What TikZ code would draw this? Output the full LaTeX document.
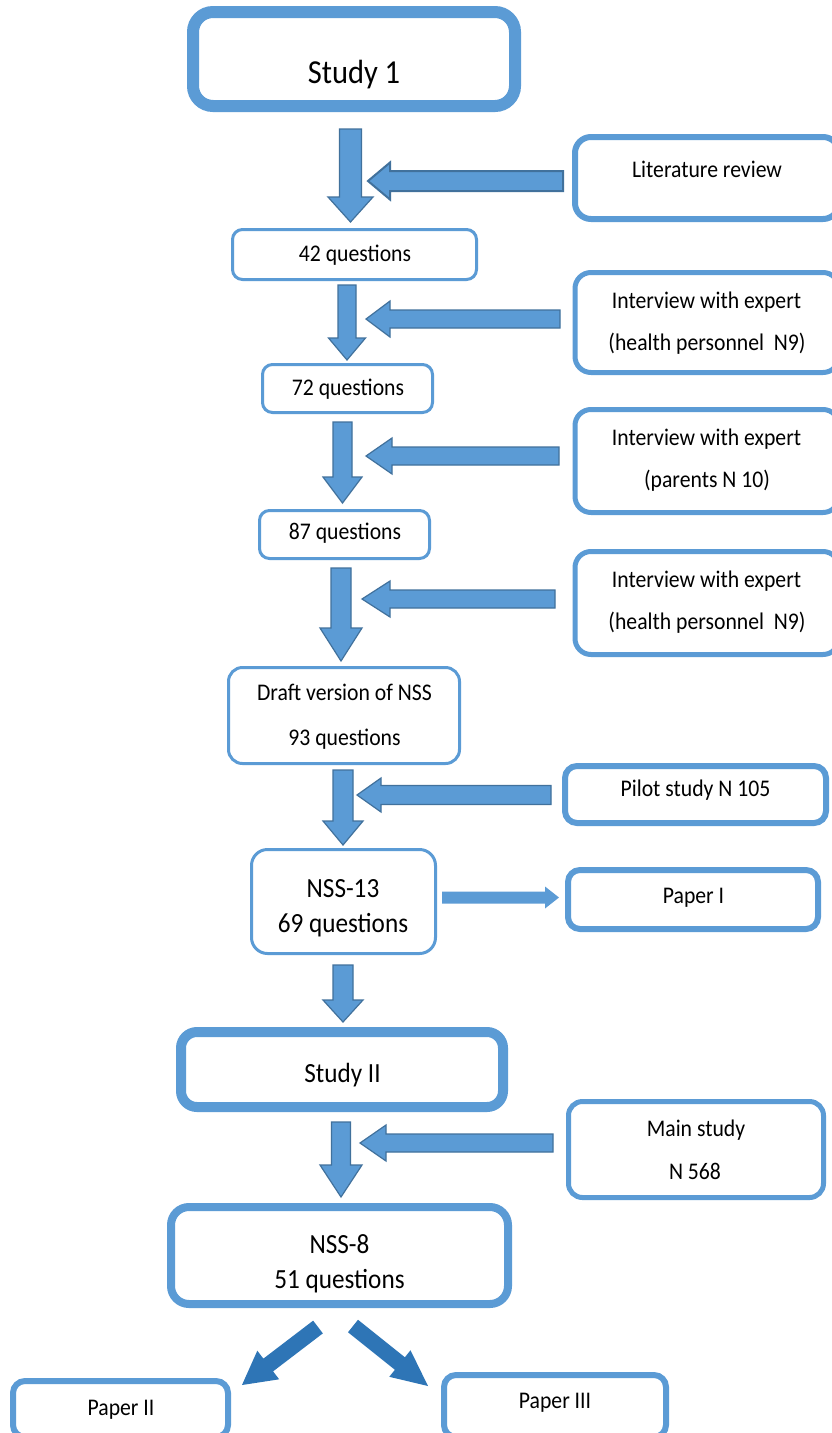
\documentclass[tikz,border=0pt]{standalone}
\usepackage{fontspec}
\usepackage{graphicx}
\setmainfont{Carlito}
\usetikzlibrary{calc}
\definecolor{bxc}{HTML}{5B9BD5}
\definecolor{arc}{HTML}{41719C}
\definecolor{dac}{HTML}{2E75B6}
\newcommand\barrow[6][]{%
  \path ($(#3)!#6!(#2)$) coordinate (hb);
  \filldraw[#1] ($(#2)!#4!90:(#3)$) -- ($(hb)!#4!90:(#3)$) -- ($(hb)!#5!90:(#3)$) -- (#3)
    -- ($(hb)!#5!-90:(#3)$) -- ($(hb)!#4!-90:(#3)$) -- ($(#2)!#4!-90:(#3)$) -- cycle;}
\newcommand\ys[1]{\scalebox{1}[1.1]{#1}}
\tikzset{
  bx/.style={draw=bxc, fill=white, rectangle, inner sep=0pt, outer sep=0pt},
  ts/.style={anchor=base, inner sep=0pt, font=\fontsize{21.7}{26}\selectfont},
  tm/.style={anchor=base, inner sep=0pt, font=\fontsize{25.2}{30}\selectfont},
  tl/.style={anchor=base, inner sep=0pt, font=\fontsize{30.5}{36}\selectfont},
  arA/.style={fill=bxc, draw=arc, line width=1.2pt, line join=miter},
  arB/.style={fill=bxc, draw=none},
  arD/.style={fill=dac, draw=none}
}
\begin{document}
\begin{tikzpicture}[x=1pt,y=-1pt]
\useasboundingbox (0,0) rectangle (832,1433);
\fill[white] (0,0) rectangle (832,1433);
% boxes
\node[bx, line width=12pt, rounded corners=20pt, minimum width=322pt, minimum height=94pt] (s1) at (354,59) {};
\node[bx, line width=6pt, rounded corners=16pt, minimum width=264pt, minimum height=82pt] (lit) at (707,178) {};
\node[bx, line width=3pt, rounded corners=10pt, minimum width=244pt, minimum height=50pt] (q42) at (354.5,254.5) {};
\node[bx, line width=5pt, rounded corners=16pt, minimum width=264pt, minimum height=100pt] (int1) at (707,322.5) {};
\node[bx, line width=3pt, rounded corners=10pt, minimum width=170pt, minimum height=48pt] (q72) at (347.5,388.5) {};
\node[bx, line width=5pt, rounded corners=16pt, minimum width=264pt, minimum height=103pt] (int2) at (707,461) {};
\node[bx, line width=3pt, rounded corners=10pt, minimum width=170pt, minimum height=48pt] (q87) at (344.5,534.5) {};
\node[bx, line width=5pt, rounded corners=16pt, minimum width=264pt, minimum height=103pt] (int3) at (707,603) {};
\node[bx, line width=3pt, rounded corners=14pt, minimum width=231pt, minimum height=96pt] (draft) at (344,715.5) {};
\node[bx, line width=6pt, rounded corners=12pt, minimum width=261pt, minimum height=57pt] (pilot) at (695.5,794.5) {};
\node[bx, line width=3pt, rounded corners=16pt, minimum width=184pt, minimum height=104pt] (nss13) at (343.5,901.5) {};
\node[bx, line width=6pt, rounded corners=12pt, minimum width=250pt, minimum height=59pt] (p1) at (693,899.5) {};
\node[bx, line width=10pt, rounded corners=16pt, minimum width=322pt, minimum height=75pt] (s2) at (342,1069.5) {};
\node[bx, line width=5pt, rounded corners=14pt, minimum width=255pt, minimum height=96pt] (main) at (696,1149.5) {};
\node[bx, line width=8pt, rounded corners=18pt, minimum width=337pt, minimum height=97pt] (nss8) at (339.5,1255.5) {};
\node[bx, line width=6pt, rounded corners=12pt, minimum width=215pt, minimum height=56pt] (p2) at (120.5,1409) {};
\node[bx, line width=6pt, rounded corners=12pt, minimum width=222pt, minimum height=62pt] (p3) at (555,1406) {};
% texts
\node[tl] (s1t) at (354,83) {\ys{Study 1}};
\node[ts] (litt) at (707,177) {\ys{Literature review}};
\node[ts] (q42t) at (355,261) {\ys{42 questions}};
\node[ts] (int1a) at (706.5,308) {\ys{Interview with expert}};
\node[ts] (int1b) at (707,350) {\ys{(health personnel~ N9)}};
\node[ts] (q72t) at (348,395) {\ys{72 questions}};
\node[ts] (int2a) at (706.5,445) {\ys{Interview with expert}};
\node[ts] (int2b) at (707,487) {\ys{(parents N 10)}};
\node[ts] (q87t) at (345,539) {\ys{87 questions}};
\node[ts] (int3a) at (706.5,587) {\ys{Interview with expert}};
\node[ts] (int3b) at (707,629) {\ys{(health personnel~ N9)}};
\node[ts] (drafta) at (344.5,700) {\ys{Draft version of NSS}};
\node[ts] (draftb) at (344.5,745) {\ys{93 questions}};
\node[ts] (pilott) at (695.5,796) {\ys{Pilot study N 105}};
\node[tm] (nss13a) at (343,897) {\ys{NSS-13}};
\node[tm] (nss13b) at (343,932) {\ys{69 questions}};
\node[ts] (p1t) at (693.5,903) {\ys{Paper I}};
\node[tm] (s2t) at (342.5,1082) {\ys{Study II}};
\node[ts] (maina) at (696,1136) {\ys{Main study}};
\node[ts] (mainb) at (695,1179) {\ys{N 568}};
\node[tm] (nss8a) at (339.5,1253) {\ys{NSS-8}};
\node[tm] (nss8b) at (339.5,1288) {\ys{51 questions}};
\node[ts] (p2t) at (121,1415) {\ys{Paper II}};
\node[ts] (p3t) at (555,1408) {\ys{Paper III}};
% arrow end points
\coordinate (a1s) at (350.5,129);  \coordinate (a1e) at (350.5,222);
\coordinate (a2s) at (563,181);    \coordinate (a2e) at (368,181);
\coordinate (a3s) at (347,285);    \coordinate (a3e) at (347,360);
\coordinate (a4s) at (560,319);    \coordinate (a4e) at (366,319);
\coordinate (a5s) at (342.5,422);  \coordinate (a5e) at (342.5,503);
\coordinate (a6s) at (559,456);    \coordinate (a6e) at (366,456);
\coordinate (a7s) at (341,568);    \coordinate (a7e) at (341,661);
\coordinate (a8s) at (555,599);    \coordinate (a8e) at (362,599);
\coordinate (a9s) at (343,770);    \coordinate (a9e) at (343,845);
\coordinate (a10s) at (551,795);   \coordinate (a10e) at (357,795);
\coordinate (a11s) at (442,897.5); \coordinate (a11e) at (559,897.5);
\coordinate (a12s) at (343,965);   \coordinate (a12e) at (343,1022);
\coordinate (a13s) at (341,1122);  \coordinate (a13e) at (341,1197);
\coordinate (a14s) at (553,1143);  \coordinate (a14e) at (360,1143);
\coordinate (a15s) at (318,1327);  \coordinate (a15e) at (242,1385);
\coordinate (a16s) at (353,1326);  \coordinate (a16e) at (428,1386);
% arrows
\barrow[arA]{a1s}{a1e}{11pt}{22.5pt}{25pt}
\barrow[arA, line width=2pt]{a2s}{a2e}{10pt}{18.5pt}{22pt}
\barrow[arA]{a3s}{a3e}{9pt}{18.5pt}{22pt}
\barrow[arA]{a4s}{a4e}{9pt}{18pt}{24pt}
\barrow[arA]{a5s}{a5e}{9.5pt}{19.5pt}{26pt}
\barrow[arA]{a6s}{a6e}{9pt}{18pt}{26pt}
\barrow[arA]{a7s}{a7e}{10pt}{21pt}{33pt}
\barrow[arA]{a8s}{a8e}{9pt}{18pt}{28pt}
\barrow[arA]{a9s}{a9e}{10pt}{20pt}{24pt}
\barrow[arA]{a10s}{a10e}{9.5pt}{17pt}{24pt}
\barrow[arB]{a11s}{a11e}{6pt}{11pt}{14pt}
\barrow[arA]{a12s}{a12e}{10pt}{20pt}{22pt}
\barrow[arA]{a13s}{a13e}{9.5pt}{21pt}{32pt}
\barrow[arA]{a14s}{a14e}{9pt}{18pt}{26pt}
\barrow[arD]{a15s}{a15e}{8pt}{18pt}{33pt}
\barrow[arD]{a16s}{a16e}{8pt}{17pt}{36pt}
\end{tikzpicture}
\end{document}
